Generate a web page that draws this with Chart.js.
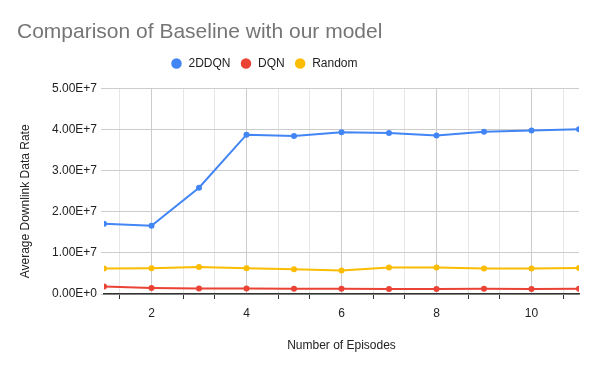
<!DOCTYPE html>
<html>
<head>
<meta charset="utf-8">
<script src="https://cdn.jsdelivr.net/npm/chart.js@4/dist/chart.umd.min.js"></script>
<style>
  html, body { margin: 0; padding: 0; background: #fff; }
  #wrap { width: 600px; height: 371px; }
</style>
</head>
<body>
<div id="wrap"><canvas id="graph1" width="600" height="371"></canvas></div>
<script>
const episodes    = [1, 2, 3, 4, 5, 6, 7, 8, 9, 10, 11];
const ddqn2       = [1.71e7, 1.66e7, 2.59e7, 3.88e7, 3.85e7, 3.94e7, 3.92e7, 3.86e7, 3.95e7, 3.98e7, 4.01e7];
const dqn         = [0.18e7, 0.145e7, 0.135e7, 0.135e7, 0.13e7, 0.13e7, 0.12e7, 0.12e7, 0.13e7, 0.12e7, 0.13e7];
const randomRate  = [0.62e7, 0.63e7, 0.66e7, 0.63e7, 0.605e7, 0.57e7, 0.645e7, 0.645e7, 0.62e7, 0.62e7, 0.635e7];
const yTicks      = [0, 1e7, 2e7, 3e7, 4e7, 5e7];

const font = "Arial, 'Liberation Sans', sans-serif";
const isMajor = v => Math.abs(v - Math.round(v)) < 1e-6 && Math.round(v) % 2 === 0;

const toPoints = arr => arr.map((v, i) => ({ x: episodes[i], y: v }));

const series = (label, color, values) => ({
  label: label,
  data: toPoints(values),
  borderColor: color,
  backgroundColor: color,
  borderWidth: 2,
  pointRadius: 2,
  pointHoverRadius: 3,
  tension: 0
});

const data = {
  datasets: [
    series('2DDQN', '#4285f4', ddqn2),
    series('DQN', '#ea4335', dqn),
    series('Random', '#fbbc04', randomRate)
  ]
};

// google sheets puts the legend left of centre and closer to the title
const legendShift = {
  id: 'legendShift',
  afterLayout(chart) {
    const lg = chart.legend;
    lg.left -= 34; lg.right -= 34;
    lg.top -= 9.2; lg.bottom -= 9.2;
  }
};

const options = {
  responsive: false,
  animation: false,
  devicePixelRatio: 1,
  events: [],
  layout: { padding: { left: 17, right: 21, top: 0, bottom: 0 } },
  plugins: {
    title: {
      display: true,
      text: 'Comparison of Baseline with our model',
      align: 'start',
      color: '#757575',
      font: { family: font, size: 21, weight: 'normal' },
      padding: { top: 20, bottom: 12 }
    },
    legend: {
      position: 'top',
      labels: {
        usePointStyle: true,
        pointStyle: 'circle',
        boxWidth: 12,
        boxHeight: 6,
        color: '#222',
        padding: 9.5,
        font: { family: font, size: 12 }
      }
    },
    tooltip: { enabled: false }
  },
  scales: {
    x: {
      type: 'linear',
      min: 1,
      max: 11,
      afterBuildTicks: scale => {
        const ticks = [];
        for (let k = 2; k * 2 / 3 < 11 - 1e-6; k++) ticks.push({ value: k * 2 / 3 });
        scale.ticks = ticks;
      },
      afterFit: scale => { scale.height = 77; },
      ticks: {
        color: '#222',
        padding: 7,
        maxRotation: 0,
        autoSkip: false,
        font: { family: font, size: 12 },
        callback: v => isMajor(v) ? String(Math.round(v)) : ''
      },
      grid: {
        color: ctx => isMajor(ctx.tick.value) ? '#cccccc' : '#e6e6e6',
        tickColor: ctx => isMajor(ctx.tick.value) ? 'rgba(0,0,0,0)' : '#333',
        tickLength: 5,
        lineWidth: 1
      },
      border: { display: true, color: '#333', width: 1.5 },
      title: {
        display: true,
        text: 'Number of Episodes',
        color: '#222',
        font: { family: font, size: 12 },
        padding: { top: 4, bottom: 18 }
      }
    },
    y: {
      min: 0,
      max: 5e7,
      afterBuildTicks: scale => { scale.ticks = yTicks.map(v => ({ value: v })); },
      afterFit: scale => { scale.width = 87; },
      ticks: {
        color: '#222',
        padding: 4,
        font: { family: font, size: 12 },
        callback: v => v.toExponential(2).toUpperCase()
      },
      grid: { color: '#cccccc', tickColor: '#cccccc', tickLength: 3 },
      border: { display: false },
      title: {
        display: true,
        text: 'Average Downlink Data Rate      ',
        color: '#222',
        font: { family: font, size: 12 },
        padding: { top: 1, bottom: 4 }
      }
    }
  }
};

const chart = new Chart(document.getElementById('graph1').getContext('2d'), {
  type: 'line',
  data: data,
  options: options,
  plugins: [legendShift]
});
</script>
</body>
</html>
